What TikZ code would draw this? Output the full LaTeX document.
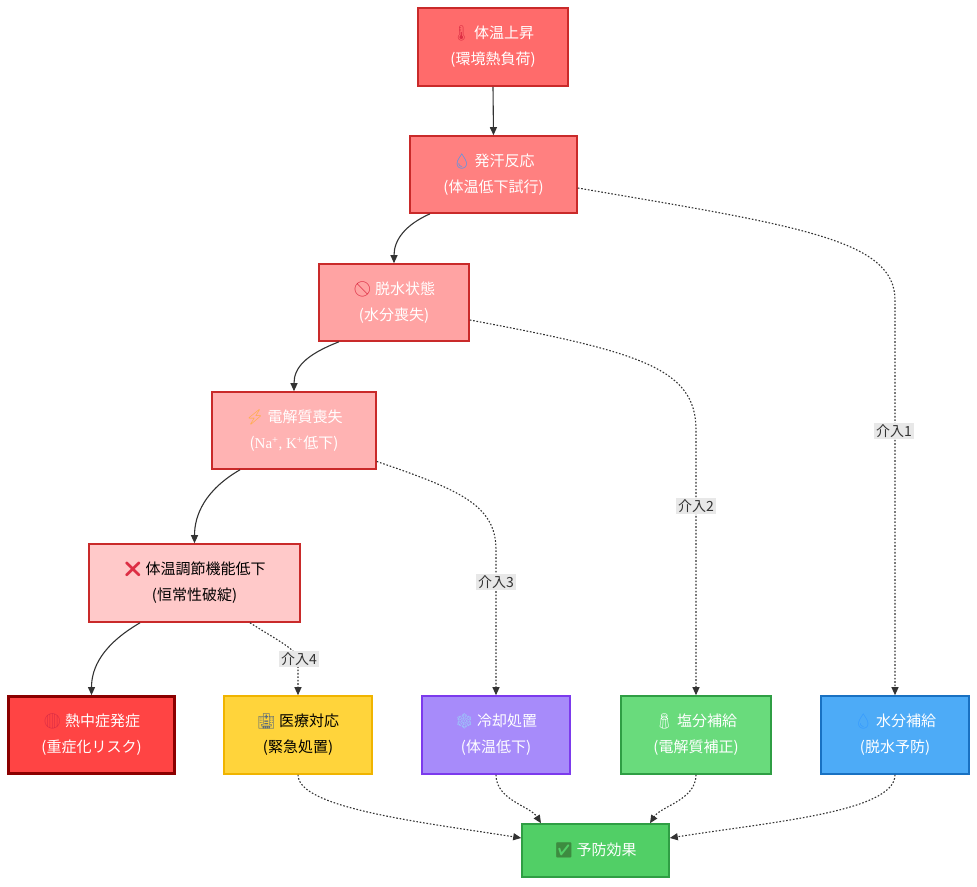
\documentclass[tikz,border=0pt]{standalone}
\usepackage{fontspec}
\setmainfont{Noto Sans CJK JP}
\newfontfamily\emo{Noto Emoji}
\newfontfamily\lser{Liberation Serif}
\usetikzlibrary{arrows.meta}
\definecolor{fa}{HTML}{FF6B6B}
\definecolor{fb}{HTML}{FF8080}
\definecolor{fc}{HTML}{FFA3A3}
\definecolor{fd}{HTML}{FFB3B3}
\definecolor{fe}{HTML}{FFC9C9}
\definecolor{ff}{HTML}{FF4444}
\definecolor{fg}{HTML}{FFD43B}
\definecolor{fh}{HTML}{A78BFA}
\definecolor{fi}{HTML}{69DB7C}
\definecolor{fj}{HTML}{4DABF7}
\definecolor{fk}{HTML}{51CF66}
\definecolor{ra}{HTML}{C92A2A}
\definecolor{rb}{HTML}{8B0000}
\definecolor{ya}{HTML}{F0B400}
\definecolor{pa}{HTML}{7C3AED}
\definecolor{ga}{HTML}{2F9E44}
\definecolor{ba}{HTML}{1971C2}
\definecolor{ln}{HTML}{333333}
\definecolor{lb}{HTML}{E8E8E8}
\definecolor{emred}{HTML}{DD2E44}
\definecolor{emblue}{HTML}{3399FF}
\definecolor{emyel}{HTML}{FFAC33}
\definecolor{emice}{HTML}{9AD0F9}
\definecolor{emgrn}{HTML}{3D8B40}
\definecolor{emgray}{HTML}{5B6B7B}
\tikzset{
  box/.style={rectangle, draw, line width=1.6pt, inner sep=0pt, align=center,
    font=\fontsize{15}{26}\selectfont, text=white},
  solidedge/.style={draw=ln, line width=1.1pt, -{Triangle[length=8pt,width=7pt]}},
  dotedge/.style={draw=ln, line width=1.1pt, dash pattern=on 1.6pt off 1.8pt, -{Triangle[length=8pt,width=7pt]}},
  lbl/.style={fill=lb, text=ln, inner sep=2pt, font=\fontsize{14}{16}\selectfont}
}
\begin{document}
\begin{tikzpicture}[x=1pt,y=-1pt]
\useasboundingbox (0,0) rectangle (977,886);
\fill[white] (0,0) rectangle (977,886);

\node[box, fill=fa, draw=ra, minimum width=150pt, minimum height=78pt] (n1) at (493,47)
  {{\emo\color{emred}🌡} 体温上昇\\(環境熱負荷)};
\node[box, fill=fb, draw=ra, minimum width=167pt, minimum height=77pt] (n2) at (493.5,174.5)
  {{\emo\color{emblue}💧} 発汗反応\\(体温低下試行)};
\node[box, fill=fc, draw=ra, minimum width=150pt, minimum height=77pt] (n3) at (394,302.5)
  {{\emo\color{emred}🚫} 脱水状態\\(水分喪失)};
\node[box, fill=fd, draw=ra, minimum width=164pt, minimum height=77pt] (n4) at (294,430.5)
  {{\emo\color{emyel}⚡} 電解質喪失\\({\lser Na\textsuperscript{+}, K\textsuperscript{+}}低下)};
\node[box, fill=fe, draw=ra, text=black, minimum width=211pt, minimum height=78pt] (n5) at (194.5,583)
  {{\emo\color{emred}❌} 体温調節機能低下\\(恒常性破綻)};
\node[box, fill=ff, draw=rb, line width=2.8pt, minimum width=166pt, minimum height=77pt] (n6) at (91.5,735)
  {{\emo\color{emred}🔴} 熱中症発症\\(重症化リスク)};
\node[box, fill=fg, draw=ya, text=black, minimum width=148pt, minimum height=78pt] (n7) at (298,735)
  {{\emo\color{emgray}🏥} 医療対応\\(緊急処置)};
\node[box, fill=fh, draw=pa, minimum width=148pt, minimum height=78pt] (n8) at (496,735)
  {{\emo\color{emice}❄} 冷却処置\\(体温低下)};
\node[box, fill=fi, draw=ga, minimum width=150pt, minimum height=78pt] (n9) at (696,735)
  {{\emo\color{white}🧂} 塩分補給\\(電解質補正)};
\node[box, fill=fj, draw=ba, minimum width=148pt, minimum height=78pt] (n10) at (895,735)
  {{\emo\color{emblue}💧} 水分補給\\(脱水予防)};
\node[box, fill=fk, draw=ga, minimum width=147pt, minimum height=53pt] (n11) at (595.5,850.5)
  {{\emo\color{emgrn}✅} 予防効果};

% main chain
\draw[solidedge] (n1.south) -- (n2.north);
\draw[solidedge] ([xshift=-63.5pt]n2.south) .. controls (405,225) and (394,240) .. (n3.north);
\draw[solidedge] ([xshift=-55pt]n3.south) .. controls (305,355) and (294,368) .. (n4.north);
\draw[solidedge] ([xshift=-54pt]n4.south) .. controls (205,490) and (194.5,515) .. (n5.north);
\draw[solidedge] ([xshift=-54.5pt]n5.south) .. controls (102,645) and (91.5,668) .. (n6.north);

% interventions
\draw[dotedge] ([yshift=-13.5pt]n2.east) .. controls (800,226) and (895,240) .. (895,300) -- (n10.north);
\draw[dotedge] ([yshift=-17.5pt]n3.east) .. controls (640,352) and (696,368) .. (696,430) -- (n9.north);
\draw[dotedge] ([yshift=-31pt]n4.east) .. controls (460,490) and (496,505) .. (496,550) -- (n8.north);
\draw[dotedge] ([xshift=55.5pt]n5.south) .. controls (285,645) and (298,650) .. (298,662) -- (n7.north);

\node[lbl] (l1) at (894,431) {介入1};
\node[lbl] (l2) at (696,506) {介入2};
\node[lbl] (l3) at (496,582) {介入3};
\node[lbl] (l4) at (299,659) {介入4};

% effects
\draw[dotedge] (n7.south) .. controls (298,808) and (420,822) .. ([yshift=12.5pt]n11.west);
\draw[dotedge] (n8.south) .. controls (496,800) and (530,806) .. ([xshift=-54.5pt]n11.north);
\draw[dotedge] (n9.south) .. controls (696,800) and (661,806) .. ([xshift=54.5pt]n11.north);
\draw[dotedge] (n10.south) .. controls (895,812) and (770,822) .. ([yshift=12.5pt]n11.east);
\end{tikzpicture}
\end{document}
